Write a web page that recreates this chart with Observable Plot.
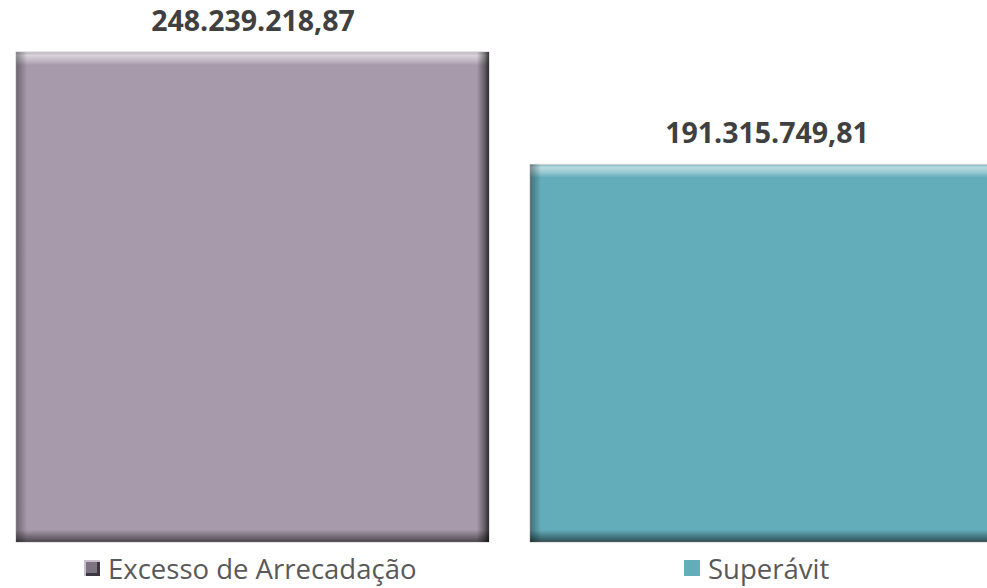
<!DOCTYPE html>
<html>
<head>
<meta charset="utf-8">
<script src="https://cdn.jsdelivr.net/npm/d3@7"></script>
<script src="https://cdn.jsdelivr.net/npm/@observablehq/plot@0.6"></script>
<style>
  html, body { margin: 0; padding: 0; background: #fff; overflow: hidden; }
  #chart svg { overflow: hidden; display: block; }
  .legend { position: relative; height: 40px; font-family: "Open Sans", sans-serif; font-size: 27.5px; color: #595959; }
  .item { position: absolute; top: 0; height: 40px; display: flex; align-items: center; white-space: nowrap; }
  .swatch { width: 16px; height: 16px; margin-right: 8px; box-sizing: border-box; }
</style>
</head>
<body>
<div id="chart"></div>
<div class="legend" id="legend"></div>
<script>
const categories = ["Excesso de Arrecadação", "Superávit"];
const values = [248239218.87, 191315749.81];
const labels = ["248.239.218,87", "191.315.749,81"];
const colors = ["#A79AAB", "#63ADBA"];

const data = categories.map((c, i) => ({category: c, value: values[i], label: labels[i], idx: i}));

const W = 987, H = 548;
const bevel = 11;

const plot = Plot.plot({
  width: W,
  height: H,
  marginLeft: 16,
  marginRight: -16,
  marginTop: 52,
  marginBottom: 6,
  x: {domain: categories, paddingInner: 0.08, paddingOuter: 0, axis: null},
  y: {domain: [0, values[0]], axis: null},
  style: {fontFamily: "Open Sans, sans-serif", background: "#fff"},
  marks: [
    ...data.map((d, i) => Plot.barY([d], {x: "category", y: "value", fill: colors[i], stroke: "#c8c8c8", strokeWidth: 1})),
    ...data.map((d, i) => Plot.barY([d], {x: "category", y: "value", fill: `url(#vg${i})`})),
    ...data.map((d, i) => Plot.barY([d], {x: "category", y: "value", fill: `url(#hg${i})`})),
    Plot.text(data, {x: "category", y: "value", text: "label", dy: -31, fontSize: 28.5, fontWeight: "bold", fill: "#404040", textAnchor: "middle", lineAnchor: "middle"})
  ]
});

// gradients for bevel look
const xs = plot.scale("x"), ys = plot.scale("y");
const bw = xs.bandwidth;
const svg = d3.select(plot);
const defs = svg.insert("defs", ":first-child");
data.forEach((d, i) => {
  const h = ys.apply(0) - ys.apply(d.value);
  const fv = bevel / h, fh = bevel / bw;
  const vg = defs.append("linearGradient").attr("id", `vg${i}`).attr("x1", 0).attr("y1", 0).attr("x2", 0).attr("y2", 1);
  [[0, "#fff", 0.2], [fv * 0.3, "#fff", 0.55], [fv * 0.7, "#fff", 0.35], [fv * 1.2, "#fff", 0.0], [1 - fv * 1.1, "#000", 0.0], [1 - fv * 0.4, "#000", 0.35], [1, "#000", 0.55]]
    .forEach(([o, c, a]) => vg.append("stop").attr("offset", o).attr("stop-color", c).attr("stop-opacity", a));
  const hg = defs.append("linearGradient").attr("id", `hg${i}`).attr("x1", 0).attr("y1", 0).attr("x2", 1).attr("y2", 0);
  [[0, "#000", 0.35], [fh * 0.5, "#000", 0.18], [fh, "#000", 0.0], [1 - fh * 1.1, "#000", 0.0], [1 - fh * 0.4, "#000", 0.4], [1, "#000", 0.75]]
    .forEach(([o, c, a]) => hg.append("stop").attr("offset", o).attr("stop-color", c).attr("stop-opacity", a));
});

document.getElementById("chart").appendChild(plot);

// legend
const legend = document.getElementById("legend");
const swatchStyles = [
  "background: #7d7281; box-shadow: inset 2px 2px 0 #c9c0cc, inset -3px -3px 0 #3c3640;",
  `background: ${colors[1]};`
];
const legendLeft = [84, 684];
categories.forEach((c, i) => {
  const item = document.createElement("div");
  item.className = "item";
  item.style.left = legendLeft[i] + "px";
  const sw = document.createElement("div");
  sw.className = "swatch";
  sw.setAttribute("style", swatchStyles[i]);
  const t = document.createElement("span");
  t.textContent = c;
  item.appendChild(sw);
  item.appendChild(t);
  legend.appendChild(item);
});
</script>
</body>
</html>
